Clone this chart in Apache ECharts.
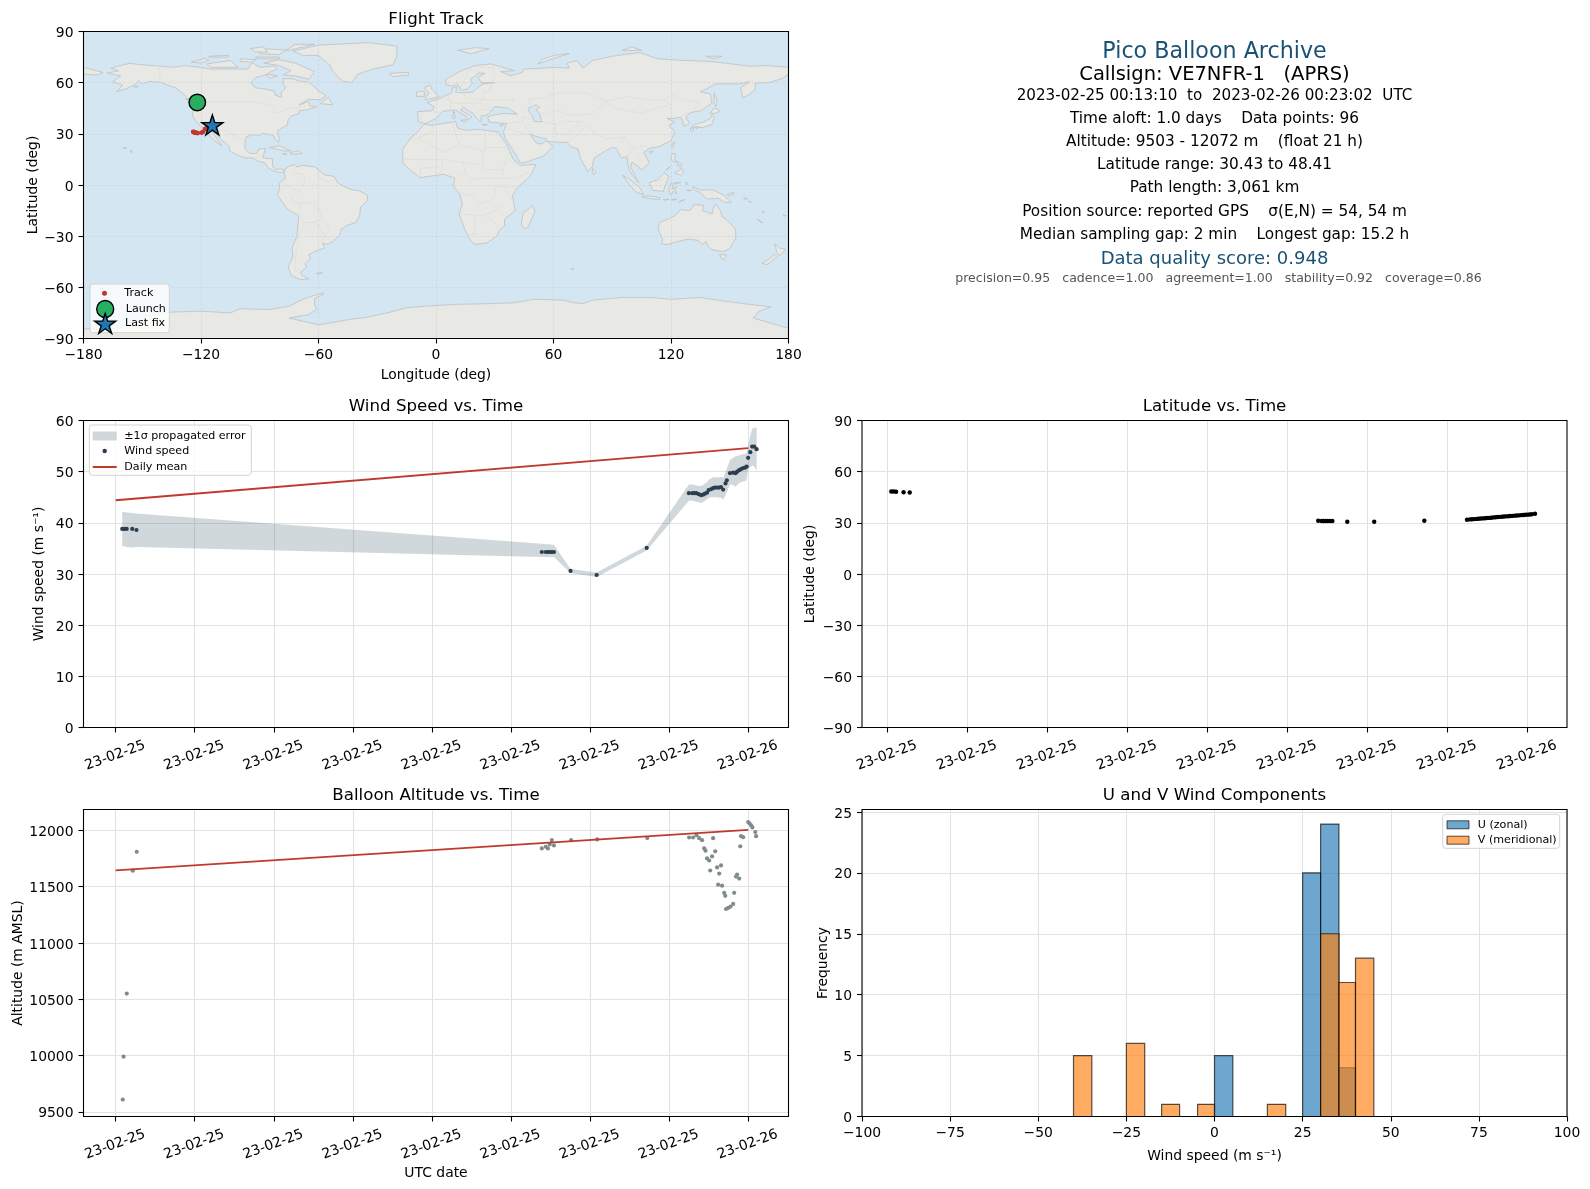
<!DOCTYPE html>
<html><head><meta charset="utf-8">
<script src="https://cdn.jsdelivr.net/npm/echarts@6/dist/echarts.min.js"></script>
<style>html,body{margin:0;padding:0;background:#fff}#c{width:1590px;height:1189px}</style>
</head><body><div id="c"></div>
<script>
// ---------- time axis ----------
const timeTickHours = [0,3,6,9,12,15,18,21,24];
const timeTickLabels = ['23-02-25','23-02-25','23-02-25','23-02-25','23-02-25','23-02-25','23-02-25','23-02-25','23-02-26'];
// ---------- wind ----------
const windHours = [0.25,0.33,0.42,0.63,0.79,16.17,16.32,16.40,16.47,16.55,16.63,17.26,18.25,20.15,21.75,21.88,21.97,22.03,22.12,22.21,22.29,22.36,22.44,22.50,22.60,22.67,22.74,22.82,22.90,22.97,23.05,23.14,23.19,23.31,23.43,23.52,23.58,23.66,23.73,23.81,23.89,23.94,24.00,24.08,24.15,24.23,24.32];
const windSpeed = [38.8,38.8,38.8,38.8,38.6,34.3,34.3,34.3,34.3,34.3,34.3,30.6,29.8,35.1,45.8,45.8,45.8,45.8,45.6,45.4,45.5,45.7,45.9,46.4,46.6,46.8,46.9,46.9,46.9,47.0,46.5,47.7,48.3,49.7,49.8,49.7,50.0,50.3,50.5,50.7,50.8,51.0,52.7,53.8,54.9,54.9,54.4];
const windUpper = [42.1,42.1,42.0,41.9,41.8,35.9,35.8,35.8,35.8,35.7,35.7,31.0,30.3,35.5,47.5,47.5,47.4,47.3,47.2,47.2,47.4,47.7,48.0,48.4,48.7,48.9,48.9,48.9,48.9,49.0,48.8,49.9,50.6,52.3,52.7,53.0,53.0,53.2,53.3,53.4,53.5,53.6,55.0,57.0,58.4,58.6,58.6];
const windLower = [35.4,35.4,35.3,35.2,35.3,33.3,33.3,33.3,33.3,33.3,33.3,30.2,29.4,34.6,44.3,44.3,44.2,44.1,44.0,43.9,44.0,44.3,44.6,44.9,45.0,45.0,45.0,45.0,44.9,44.9,44.5,45.4,46.0,47.5,47.4,47.0,47.4,47.8,48.0,48.1,48.2,48.3,50.5,50.8,51.2,51.0,50.2];
const windMeanHours = [0,24];
const windMean = [44.4,54.6];
// ---------- latitude ----------
const latHours = [0.15,0.24,0.33,0.61,0.84,16.16,16.29,16.36,16.44,16.52,16.60,16.69,17.25,18.26,20.14,21.74,21.85,21.93,22.01,22.09,22.17,22.25,22.33,22.41,22.49,22.57,22.65,22.73,22.81,22.89,22.97,23.05,23.13,23.21,23.29,23.37,23.45,23.53,23.61,23.69,23.77,23.85,23.93,24.01,24.09,24.17,24.29];
const latValues = [48.41,48.4,48.2,47.9,47.8,31.2,31.1,31.1,31.1,31.1,31.1,31.1,30.6,30.6,31.2,31.8,32.0,32.1,32.2,32.3,32.4,32.5,32.6,32.7,32.8,32.9,33.0,33.2,33.3,33.4,33.5,33.6,33.7,33.8,33.9,34.0,34.1,34.2,34.3,34.4,34.5,34.6,34.7,34.8,34.9,35.0,35.3];
// ---------- altitude ----------
const altHours = [0.27,0.30,0.42,0.65,0.80,16.17,16.32,16.40,16.47,16.55,16.63,17.28,18.27,20.17,21.76,21.91,22.04,22.14,22.25,22.33,22.38,22.44,22.52,22.56,22.63,22.67,22.75,22.82,22.86,22.90,22.97,23.01,23.09,23.13,23.16,23.24,23.33,23.43,23.47,23.54,23.58,23.66,23.70,23.73,23.81,24.00,24.05,24.11,24.16,24.27,24.30];
const altValues = [9608,9990,10550,11642,11810,11840,11855,11840,11876,11914,11867,11914,11920,11932,11937,11937,11958,11931,11913,11841,11820,11751,11733,11644,11769,11931,11814,11671,11518,11617,11689,11509,11446,11419,11302,11311,11323,11347,11446,11590,11608,11572,11859,11949,11940,12075,12063,12045,12027,11985,11949];
const altMeanHours = [0,24];
const altMean = [11645,12005];
const altTicks = [9500,10000,10500,11000,11500,12000];
// ---------- histogram ----------
const uBinLo = [0,25,30.1,35.3];
const uBinHi = [5.2,30.1,35.3,40];
const uCounts = [5,20,24,4];
const vBinLo = [-40,-25,-15,-4.8,15,30.1,35.3,40];
const vBinHi = [-34.8,-19.8,-9.9,0,20.2,35.3,40,45.2];
const vCounts = [5,6,1,1,1,15,11,13];
const histCountTicks = [0,5,10,15,20,25];
// ---------- map track ----------
const trackLon = [-122.1,-122.0,-121.9,-121.7,-121.5,-124.0,-123.8,-123.6,-123.4,-123.1,-122.8,-122.3,-121.6,-119.6,-118.9,-118.0,-117.2,-116.0,-114.8];
const trackLat = [48.41,48.3,48.1,47.9,47.8,31.2,31.1,31.0,30.9,30.8,30.7,30.5,30.43,30.7,31.2,32.8,33.2,34.0,35.0];
const launchPoint = [-121.9,48.41];
const lastFixPoint = [-114.2,35.2];
// ---------- land outlines (lon,lat) ----------
const landNorthAmerica = [[-168,65.6],[-164,66.5],[-162,67],[-166,68.3],[-163,69.5],[-156.6,71.3],[-150,70.5],[-141,69.7],[-135,69],[-128,70],[-124,69.5],[-115,68],[-108,68],[-100,68],[-96,68],[-94,71.8],[-90,69],[-85,69.5],[-82,69.7],[-81,68],[-85,66],[-87,64.5],[-92,63],[-94.5,60],[-92.5,57],[-88,56.5],[-82.5,55],[-82,52.5],[-79,51.5],[-79,54.5],[-76.7,57],[-78,59],[-78,62.4],[-73.5,62.3],[-70,61],[-65,60.3],[-62,57.5],[-60,55],[-56,52.5],[-59,50],[-65,50.2],[-70,47],[-65,49],[-64.5,46.5],[-61,46],[-66,44],[-70,43.5],[-70,41.7],[-74,40.5],[-75.5,38],[-76,35],[-78,34],[-81,31.5],[-80,27],[-80.5,25.2],[-82,26.5],[-83,29],[-85,29.7],[-89,30.3],[-90,29],[-94,29.5],[-97,28],[-97.5,24],[-97.5,21],[-95,18.5],[-91.5,18.5],[-90.5,21],[-87,21.5],[-88,18],[-88.5,16],[-83.5,15.3],[-83.5,11],[-82,9],[-79.5,9.5],[-77.5,8.7],[-78,7.5],[-80,7.3],[-83,8.2],[-85.7,10],[-87.5,13],[-91,14],[-94,16],[-97,15.8],[-101,17.3],[-105.5,20],[-105.5,22.5],[-109,26],[-112.7,30.5],[-114.7,31.7],[-112,27.5],[-109.5,23],[-112,25],[-115,28],[-117,32.5],[-120.5,34.5],[-122.5,37.5],[-124.3,40.3],[-124,46],[-123,49],[-127,51],[-130,54.5],[-133,57],[-137,58.5],[-140,60],[-146,60.7],[-150,59.5],[-152,61],[-154,58.8],[-158,56.5],[-163,54.8],[-160,58.5],[-165,60.5],[-161,64],[-168,65.6]];
const landSouthAmerica = [[-77.5,8.7],[-75,11],[-72,12],[-71,10.5],[-68,11.5],[-62,10.7],[-57,6],[-52,5],[-50,1],[-44,-2.5],[-39,-3.5],[-35,-6],[-35,-9],[-38.5,-13],[-39,-18],[-41,-22],[-45,-23.5],[-48.5,-26],[-49,-29],[-53,-33.5],[-56,-34.8],[-58,-34],[-57,-37],[-62,-39],[-65,-41],[-64,-43],[-67,-46],[-66,-48],[-69,-51],[-68.5,-53],[-65,-55],[-69,-55.5],[-74,-53],[-75.5,-48],[-73,-42],[-73.5,-37],[-71,-30],[-70,-18],[-76,-14],[-81,-6],[-80,-2.5],[-80,1],[-77,4],[-77.5,8.7]];
const landAfrica = [[-6,35.7],[-2,35],[10,37.2],[11,33.5],[15,32],[20,32.5],[23,32.5],[32,31],[32.5,29.5],[36,24],[37.5,20],[39.5,15],[43,11.5],[51,12],[48,5],[42,-1],[39,-6],[40.5,-15],[35,-20],[35,-24],[32.7,-26],[31,-30],[26,-34],[20,-34.8],[18,-33],[15,-27],[11.8,-17],[13.5,-11],[12,-5],[9,-1],[9.5,4],[4,6.3],[-4,5],[-8,4.3],[-13,8.5],[-17,13],[-17,21],[-13,27.5],[-9.5,31],[-6,35.7]];
const landEurasia = [[-5.5,36],[-9,37],[-9.5,43],[-2,43.5],[-1,46],[-4.5,48.4],[1.5,50.5],[4,52],[8,54],[8.5,57],[10.5,57.5],[10,54.5],[14,54],[19,54.5],[21,57],[24,59.3],[30,60],[23,60],[21.5,63],[25,65.5],[22,65.7],[17.5,62],[18.5,59.5],[16,56.2],[13,55.5],[11,59],[8,58],[5,59],[5,62],[13,67],[20,70],[28,71],[40,67],[33,66.5],[38,64],[44,66],[45,68],[54,68.5],[60,69],[68,68.5],[67,71.5],[72,73],[75,68.5],[80,73],[90,75.5],[104,77.7],[113,74],[127,73],[140,72.5],[160,69.7],[170,70],[180,69],[180,65],[177,62.5],[170,60],[163,59.8],[163,56],[160,53],[156.7,51],[155.5,57],[160,60.5],[155,59.3],[143,59.3],[135,54.5],[140,53.5],[141,48],[135,43.5],[130,42.5],[127.5,39.8],[129.5,36],[126.5,34.5],[126,37.5],[125,39.7],[121.5,39],[118,39],[122,37],[119,35],[122,31],[120,26],[114,22.5],[109,21.5],[106,19],[109,13],[105,9],[103,11],[100,13.5],[99.5,10],[103.5,1.5],[100.5,5.5],[98.5,9],[97.5,16.5],[94.5,16],[92,21.5],[90,22],[86.5,20],[80.5,15.5],[80,11],[77.5,8],[73.5,16],[72.7,21],[69,22.3],[67,25],[61.5,25.2],[57,25.5],[56.3,27],[51,28.5],[48,30],[50,26.5],[51.5,24.5],[54,24],[56.3,26],[59.7,22.5],[55,17],[45,13],[43,13],[39,21],[35,28],[34.5,31.5],[36,36],[31,36.5],[27,37],[26.5,40],[29,41],[35,42],[41.5,41.5],[37,45],[33.5,45.5],[30,46],[28,43],[26,41],[23,40.5],[23,37],[20,40],[19,42],[14,45.5],[12.5,44],[18.3,40],[16,38],[15.7,40],[10,44],[3.5,43.3],[0,39],[-5.5,36]];
const landChukotkaWest = [[-180,65],[-180,69],[-175,67.5],[-170,66],[-173,64.5],[-180,65]];
const landAustralia = [[114,-22],[113.5,-26],[115.7,-32],[115,-34.3],[118,-35],[124,-33],[129,-31.7],[134,-32.5],[136,-35],[138,-33],[138.5,-35.5],[141,-38],[146.5,-39],[150,-37.5],[153,-31],[153,-26],[149,-21],[146,-18.5],[145.3,-15],[142.7,-11],[141.5,-14],[141,-17],[136,-15],[136.8,-12],[132,-11.3],[129.5,-15],[125,-14.5],[122,-18],[117,-20.7],[114,-22]];
const landAntarctica = [[-180,-90],[-180,-84.3],[-165,-84.5],[-155,-82],[-150,-77],[-135,-74.5],[-120,-74],[-105,-75],[-100,-72.5],[-85,-73],[-75,-71],[-68,-67],[-63,-65],[-57.5,-63.3],[-58,-64.5],[-62,-66.5],[-62,-70],[-61,-73],[-65,-76],[-75,-78],[-60,-82],[-45,-79],[-35,-77.5],[-25,-75],[-15,-72],[-5,-71],[10,-70],[30,-69.5],[40,-69],[50,-67],[65,-67.5],[70,-69],[75,-69.5],[80,-67.5],[95,-66],[110,-66],[120,-67],[135,-66],[150,-68.5],[160,-70],[171,-71.5],[165,-74],[162,-78],[180,-84],[180,-90],[-180,-90]];
const landIslands = [
 [[-73,78.5],[-60,82],[-35,83.5],[-20,81.5],[-20,75],[-22,70.5],[-32,68],[-40,65],[-43,60],[-48,61],[-53,67],[-54,70],[-60,76],[-68,76],[-73,78.5]],
 [[-80,73.5],[-72,71.5],[-62,66.5],[-65,62],[-72,64],[-78,64.5],[-74,67],[-80,70],[-88,71.5]],
 [[-117,71],[-105,73],[-101,69],[-115,69]],[[-125,72],[-118,74.3],[-116,73],[-120,71.5]],
 [[-90,77],[-80,76.5],[-72,82.5],[-62,82.5],[-75,79],[-90,80]],[[-92,75],[-80,75],[-80,74],[-92,74]],
 [[-95,80],[-88,81],[-86,78],[-92,78]],[[-116,75.5],[-106,76],[-106,75],[-116,75]],[[-100,74],[-92,73.5],[-94,72],[-100,72.5]],
 [[-87,65],[-81,64],[-85,62.5]],[[-59,47.7],[-55,51.5],[-52.8,47]],
 [[-85,22],[-80,23],[-74,20],[-77.5,20]],[[-74.5,19],[-70,20],[-68.5,18.5],[-74,18]],[[-78.3,18.4],[-76.3,18.2],[-77,17.7]],
 [[-128,50.5],[-125,50],[-123.5,48.5]],[[-156,20.5],[-155,19.5],[-156,19]],[[-160,22.2],[-158,21.5],[-159.5,21.8]],[[-154.5,58],[-152,58],[-153,57]],
 [[-61,-51.7],[-58,-51.5],[-60,-52.4]],[[-24,65.5],[-14,66],[-14,64.5],[-22,63.5]],
 [[-5.5,50],[1.5,51.5],[0,53.5],[-2,56],[-3,58.5],[-6,57],[-3.5,54],[-5,52]],[[-10,52],[-6,52],[-6,55],[-10,54.5]],
 [[11,79],[20,80.5],[27,80],[18,77]],[[52,71],[57,73],[68,77],[60,76],[54,73.5]],[[95,79],[105,79],[100,81]],[[138,75.5],[146,75.5],[142,74]],
 [[142,54],[143.5,50],[143,46],[142,48]],[[130.5,34],[136,33.7],[141,35.5],[142,39.5],[141,41.2],[140,39],[136.5,36.9],[132,35.4]],
 [[140,42],[142,45.3],[145,43.5],[143,42]],[[130,33.5],[131.7,33],[131,31],[130,32]],[[132.5,34],[134.5,34],[133,33]],
 [[120.2,23],[121.5,25.2],[122,25],[120.8,22]],[[109,19.5],[110.5,20],[110,18.3]],
 [[120,16],[120.7,18.5],[122.2,18.3],[122,14.5],[124,13],[120.7,13.9]],[[122,7],[125.5,9.7],[126.5,7.5],[125,5.8]],[[123,11.5],[125.5,12.5],[125,10.5]],[[117.2,8.5],[119.5,11],[119,10]],
 [[109,1.5],[113,3],[116.5,7],[119,5],[117.5,1],[116,-3.8],[110.5,-3]],[[95.3,5.6],[98,4],[104,-1.5],[106,-5.8],[102,-4],[99,0]],
 [[105.2,-6.7],[110,-6.5],[114.5,-7.7],[114,-8.7],[106.5,-7.5]],[[119.5,-5.5],[119,-2.5],[120,1],[125,1.5],[121,0.3],[120.5,-2.5],[123,-1],[121.8,-2],[123,-5],[121,-3.5],[120.5,-5.5]],
 [[124,-10],[127,-8.5],[125,-9.5]],[[116,-8.5],[119,-8.3],[117,-9]],[[120,-8.5],[123,-8.3],[121,-8.9]],[[127.5,1.8],[128.5,1],[128,0]],[[128,-3],[130.5,-3],[129,-3.5]],
 [[131,-1],[135,-3],[141,-2.7],[147,-6],[150.8,-10.5],[147,-10],[144,-7.7],[140,-8.2],[138,-8],[135,-4.5],[132,-3]],[[148.5,-5.5],[152,-4.2],[152,-5.5],[149,-6.2]],
 [[157,-7.5],[159,-8.3],[157.5,-8.2]],[[159.5,-9.3],[161,-10],[160,-9.8]],[[167,-15],[167.5,-16.5],[166.8,-15.8]],[[164,-20],[167,-22.3],[166,-22]],[[177.3,-17.5],[178.7,-18],[177.5,-18.3]],
 [[144.8,-40.8],[148.3,-41],[147.5,-43.3],[146,-43.5]],[[173,-34.5],[175.5,-37],[178.5,-37.7],[175.5,-41.5],[174,-39.3]],[[172.7,-40.5],[174,-41.8],[171,-45],[169,-46.7],[166.5,-46],[170.5,-43]],
 [[49.3,-12],[50.5,-15.5],[47,-25],[45,-25.5],[43.5,-23],[44.5,-16.5]],[[80,9.7],[81.7,7.5],[80.5,6],[79.8,8]],[[69,-49],[70.5,-49.3],[69.5,-49.8]],
 [[8.2,41],[9.7,41],[9.5,39],[8.5,39]],[[8.7,43],[9.5,43],[9.3,41.5]],[[12.5,38],[15.5,38.2],[15,36.7]],[[23.5,35.5],[26.3,35.3],[24,35]],[[32.5,35],[34.5,35.6],[33.5,34.6]]
];
const waterBodies = [[[47,45],[51,47],[53,45.5],[51,44],[53,41.5],[54,37],[50,37.3],[49,41],[47.5,43]]];
const countryBorders = [
 [[-123,49],[-95,49],[-89,48],[-83,46],[-82.5,42],[-79,43],[-75,45],[-71,45],[-67.5,47],[-67,45]],[[-141,60],[-141,69.7]],[[-117,32.5],[-106.5,31.8],[-103,29],[-97.5,26]],[[-92,14.5],[-91,17.5],[-89,18]],
 [[-72,12],[-72.5,7],[-67.5,6],[-67,1.5],[-70,-4],[-74,-7],[-73,-10],[-69,-11],[-65,-10],[-60,-14],[-58,-20],[-54.5,-25.5],[-57,-30],[-53.5,-33.5]],[[-60,8],[-60,5],[-57,2],[-52,2.5]],[[-70,-4],[-75,-0.5],[-78,1]],[[-80.5,-3.5],[-75,-0.5]],[[-70,-18],[-69,-11]],[[-69,-18],[-67,-23],[-70,-30],[-71.5,-40],[-72,-50],[-69,-52]],[[-67,-22],[-62,-22],[-58,-20]],[[-62,-22],[-58,-27],[-58,-34]],
 [[-9,27.5],[-1,32],[-2,35]],[[-13,27.5],[-8,27],[4,19],[12,23.5],[10,30],[8,37]],[[12,23.5],[25,20],[25,32]],[[25,22],[36,22]],[[24,20],[24,9],[34,9],[36,15],[43,12]],[[34,9],[34,4],[41,4],[48,8]],[[-17,15],[-5,15],[3,15],[14,13],[24,12]],[[14,13],[15,7],[9,4.5]],[[3,15],[3,6.5]],[[-8,4.5],[-8,10],[-5,10],[2,11]],[[15,7],[18,3.5],[30,4],[34,4]],[[12,-5],[18,-6],[22,-11],[30,-8],[30,-1],[34,-1],[41,-2]],[[34,-1],[40,-10.5]],[[12,-17],[24,-18],[30,-15],[35,-11]],[[20,-18],[20,-29],[17,-29]],[[25,-18],[30,-22],[32,-26]],
 [[-9,42],[-7,37]],[[-2,43.5],[3,42.5]],[[3,51],[8,49],[7,44]],[[7,54],[6,51],[8,48],[13,48],[17,48],[22,48],[29,45]],[[14,54],[15,51],[24,50],[24,54],[28,56],[28,60]],[[24,50],[40,50],[38,47]],[[13,47],[14,45.5]],[[20,42],[23,44],[29,44]],[[26,41],[26,38]],[[12,56],[17,68],[24,66]],[[20,69],[29,69],[30,62],[28,60]],
 [[36,36],[44,37],[44.5,40]],[[36,33],[39,32],[47,29.5]],[[44,37],[46,34],[48,30]],[[44.5,40],[48,39],[48,38.5]],[[54,37],[61,36],[61,31],[61.5,25.2]],[[61,36],[66,37.5],[71,37],[75,37]],[[61,30],[66,29.5],[70,33],[74,37]],[[67,25],[71,28],[74,32],[78,35]],[[78,35],[81,30],[88,27],[97,28],[92,22]],[[49,46],[55,41],[61,44],[68,41],[75,41],[80,42],[87,49]],[[49,46],[47,50],[55,51],[62,54],[77,54],[87,49]],[[87,49],[98,52],[107,50],[117,50],[120,53],[127,50],[135,48],[131,43]],[[87,49],[92,45],[105,42],[112,45],[120,47],[117,50]],[[97,28],[98,24],[102,21.5],[106,23],[108,21.5]],[[102,21.5],[100,20],[98,17],[99,10]],[[102,18],[105,14],[103,11]],[[124.5,40],[128,42],[130,42.5]],[[126,38],[128.5,38.5]],[[141,-2.7],[141,-9]],[[110,1.5],[115,3],[117.5,4.5]]
];
// ---------- text panel ----------
const panelLines = [
 ['Pico Balloon Archive',52.3,22.2,'#1a5276',0],
 ['Callsign: VE7NFR-1   (APRS)',75.2,19.5,'#000',0],
 ['2023-02-25 00:13:10  to  2023-02-26 00:23:02  UTC',96.2,15.15,'#000',0],
 ['Time aloft: 1.0 days    Data points: 96',119.4,15.3,'#000',0],
 ['Altitude: 9503 - 12072 m    (float 21 h)',142.4,15.3,'#000',0],
 ['Latitude range: 30.43 to 48.41',165.4,15.3,'#000',0],
 ['Path length: 3,061 km',188.5,15.3,'#000',0],
 ['Position source: reported GPS    σ(E,N) = 54, 54 m',211.8,15.3,'#000',0],
 ['Median sampling gap: 2 min    Longest gap: 15.2 h',235,15.3,'#000',0],
 ['Data quality score: 0.948',259.2,18,'#1a5276',0],
 ['precision=0.95   cadence=1.00   agreement=1.00   stability=0.92   coverage=0.86',279,12.55,'#555',4]
];
// ---------- layout ----------
const FONT = 'DejaVu Sans';
const COL = [83.5,862], ROW = [31.5,420.5,809.5], W = 705, H = 307;
const TICK_FS = 13.9, LABEL_FS = 13.9, TITLE_FS = 16.67, LEGEND_FS = 11.1;
const GRID_C = '#e2e2e2';
const TRED = '#c0392b';
const pairs = (a,b)=>a.map((v,i)=>[v,b[i]]);
const minus = v=>String(v).replace('-','\u2212');
const starPath = 'path://M50 0 L61.8 36.3 L100 36.3 L69.1 58.8 L80.9 95.1 L50 72.6 L19.1 95.1 L30.9 58.8 L0 36.3 L38.2 36.3 Z';

function grid(c,r){return {left:COL[c],top:ROW[r],width:W,height:H,containLabel:false,outerBoundsMode:'none',show:false};}
const tick = {show:true,length:5,lineStyle:{color:'#000',width:1.1}};
const noLine = {show:false,onZero:false};
const label = {color:'#000',fontSize:TICK_FS,fontFamily:FONT,margin:10,formatter:minus,hideOverlap:false,showMinLabel:true,showMaxLabel:true};
const yLabel = {...label,margin:10,verticalAlign:'top',lineHeight:4};
const nameSt = {color:'#000',fontSize:LABEL_FS,fontFamily:FONT};
const split = {show:true,lineStyle:{color:GRID_C,width:1.1}};
const mapSplit = {show:true,lineStyle:{color:'#c3ced4',width:0.6,type:[2,2]}};
function timeAxis(i,lo,hi,name){return {gridIndex:i,type:'value',min:lo,max:hi,name:name||'',nameLocation:'middle',nameGap:50,nameTextStyle:nameSt,
  axisLine:noLine,axisTick:{...tick,customValues:timeTickHours},splitLine:split,
  axisLabel:{...label,customValues:timeTickHours,rotate:20,align:'center',verticalAlign:'middle',margin:28,padding:[0,1,0,0],formatter:v=>timeTickLabels[timeTickHours.indexOf(v)]}};}
function yAxis(i,o){return Object.assign({gridIndex:i,type:'value',nameLocation:'middle',nameRotate:90,nameTextStyle:nameSt,axisLine:noLine,axisTick:tick,splitLine:split,axisLabel:yLabel},o);}

const renderPoly = (polys,style)=>(params,api)=>{
  const pts = polys[params.dataIndex].map(p=>api.coord(p));
  return {type:'polygon',shape:{points:pts},style};
};
const landAll = [landNorthAmerica,landSouthAmerica,landAfrica,landEurasia,landChukotkaWest,landAustralia,landAntarctica,...landIslands];
function histSeries(name,lo,hi,counts,fill,gi,z){
  return {name,type:'custom',xAxisIndex:gi,yAxisIndex:gi,z,itemStyle:{color:fill},data:counts.map((c,i)=>[lo[i],hi[i],c]),
    renderItem:(p,api)=>{const a=api.coord([api.value(0),0]),b=api.coord([api.value(1),api.value(2)]);
      return {type:'rect',shape:{x:a[0],y:b[1],width:b[0]-a[0],height:a[1]-b[1]},style:{fill,stroke:'rgba(0,0,0,0.65)',lineWidth:1.2}};}};
}
function legendItem(name,cx,cy,w,h,textX,extra,dy){
  return {show:true,selectedMode:false,orient:'horizontal',left:cx-w/2,top:cy-Math.max(h,13)/2+(dy||0),padding:0,itemWidth:w,itemHeight:h,z:20,
    data:[Object.assign({name},extra||{})],
    textStyle:{color:'#000',fontSize:LEGEND_FS,fontFamily:FONT,padding:[0,0,0,textX-(cx+w/2)-5]}};
}
const legendBoxes=[[90,284,79.3,48.7],[89.3,425,162,50.3],[1442.7,814.3,117,34]];
const graphics = [];
panelLines.forEach(l=>graphics.push({type:'text',x:COL[1]+W/2+l[4],y:l[1],silent:true,style:{text:l[0],x:0,y:0,align:'center',verticalAlign:'middle',font:l[2]+'px "'+FONT+'"',fill:l[3]}}));
legendBoxes.forEach(b=>graphics.push({type:'rect',silent:true,z:15,shape:{x:b[0],y:b[1],width:b[2],height:b[3],r:3},style:{fill:'rgba(255,255,255,0.8)',stroke:'#d4d4d4',lineWidth:1}}));
[[0,0],[0,1],[1,1],[0,2],[1,2]].forEach(([c,r])=>graphics.push({type:'rect',silent:true,z:30,shape:{x:COL[c],y:ROW[r],width:W,height:H},style:{fill:'none',stroke:'#000',lineWidth:1.1}}));

const titles = [['Flight Track',0,20.4],['Wind Speed vs. Time',0,408],['Latitude vs. Time',1,408],['Balloon Altitude vs. Time',0,797],['U and V Wind Components',1,797]]
  .map(t=>({text:t[0],left:COL[t[1]]+W/2,top:t[2]-9.5,padding:0,textAlign:'center',textStyle:{color:'#000',fontSize:TITLE_FS,fontWeight:'normal',fontFamily:FONT}}));

const option = {
  animation:false,backgroundColor:'#fff',textStyle:{fontFamily:FONT},
  title:titles,
  grid:[Object.assign(grid(0,0),{show:true,backgroundColor:'#d4e6f1',borderWidth:0}),grid(0,1),grid(1,1),grid(0,2),grid(1,2)],
  xAxis:[
    {gridIndex:0,type:'value',min:-180,max:180,interval:60,name:'Longitude (deg)',nameLocation:'middle',nameGap:30,nameTextStyle:nameSt,axisLine:noLine,axisTick:tick,axisLabel:label,z:2,splitLine:mapSplit},
    timeAxis(1,-1.22,25.53),timeAxis(2,-0.949,25.49),timeAxis(3,-1.22,25.53,'UTC date'),
    {gridIndex:4,type:'value',min:-100,max:100,interval:25,name:'Wind speed (m s\u207B\u00B9)',nameLocation:'middle',nameGap:33,nameTextStyle:nameSt,axisLine:noLine,axisTick:tick,axisLabel:label,splitLine:split}
  ],
  yAxis:[
    yAxis(0,{min:-90,max:90,interval:30,name:'Latitude (deg)',nameGap:43,z:2,splitLine:mapSplit}),
    yAxis(1,{min:0,max:60,interval:10,name:'Wind speed (m s\u207B\u00B9)',nameGap:37}),
    yAxis(2,{min:-90,max:90,interval:30,name:'Latitude (deg)',nameGap:45}),
    yAxis(3,{min:9458,max:12186,axisTick:{...tick,customValues:altTicks},axisLabel:{...yLabel,customValues:altTicks},name:'Altitude (m AMSL)',nameGap:58}),
    yAxis(4,{min:0,max:25.2,axisTick:{...tick,customValues:histCountTicks},axisLabel:{...yLabel,customValues:histCountTicks},name:'Frequency',nameGap:32})
  ],
  legend:[
    legendItem('Track',104.5,292.3,5,5,124.3,{icon:'circle'},2),
    legendItem('Launch',104.5,308.3,17,17,125,{icon:'circle',itemStyle:{color:'#27ae60',borderColor:'#000',borderWidth:1.4}},0),
    legendItem('Last fix',104.5,323.3,21,21,124.3,{icon:starPath,itemStyle:{color:'#1f77b4',borderColor:'#000',borderWidth:1.4}},0),
    legendItem('\u00B11\u03C3 propagated error',104.7,435,24,9,124.3,{icon:'rect'},2),
    legendItem('Wind speed',104.7,450,4.5,4.5,124.3,{icon:'circle'},2),
    legendItem('Daily mean',104.7,466,24,2,124.3,{icon:'rect',itemStyle:{color:TRED}},2),
    legendItem('U (zonal)',1457.5,823.3,22,8,1477.3,{icon:'rect',itemStyle:{color:'rgba(31,119,180,0.65)',borderColor:'rgba(0,0,0,0.65)',borderWidth:1}},2.5),
    legendItem('V (meridional)',1457.5,838.7,22,8,1477.3,{icon:'rect',itemStyle:{color:'rgba(255,127,14,0.65)',borderColor:'rgba(0,0,0,0.65)',borderWidth:1}},2.5)
  ],
  graphic:{elements:graphics},
  series:[
    {name:'land',type:'custom',xAxisIndex:0,yAxisIndex:0,z:1,silent:true,data:landAll.map((_,i)=>i),renderItem:renderPoly(landAll,{fill:'#e8e8e4',stroke:'#b9bcbd',lineWidth:0.7})},
    {name:'water',type:'custom',xAxisIndex:0,yAxisIndex:0,z:1,silent:true,data:waterBodies.map((_,i)=>i),renderItem:renderPoly(waterBodies,{fill:'#d4e6f1',stroke:'#b9bcbd',lineWidth:0.7})},
    {name:'borders',type:'custom',xAxisIndex:0,yAxisIndex:0,z:1,silent:true,data:countryBorders.map((_,i)=>i),renderItem:(p,api)=>({type:'polyline',shape:{points:countryBorders[p.dataIndex].map(q=>api.coord(q))},style:{fill:'none',stroke:'#dadad6',lineWidth:0.6}})},
    {name:'Track',type:'scatter',xAxisIndex:0,yAxisIndex:0,z:5,symbolSize:4.6,itemStyle:{color:TRED,opacity:1},data:pairs(trackLon,trackLat)},
    {name:'Launch',type:'scatter',xAxisIndex:0,yAxisIndex:0,z:6,symbolSize:16.5,itemStyle:{color:'#27ae60',borderColor:'#000',borderWidth:1.4,opacity:1},data:[launchPoint]},
    {name:'Last fix',type:'scatter',xAxisIndex:0,yAxisIndex:0,z:7,symbol:starPath,symbolKeepAspect:true,symbolSize:21,itemStyle:{color:'#1f77b4',borderColor:'#000',borderWidth:1.4,opacity:1},data:[lastFixPoint]},

    {name:'\u00B11\u03C3 propagated error',type:'custom',xAxisIndex:1,yAxisIndex:1,z:3,itemStyle:{color:'rgba(90,115,125,0.28)'},data:[[windHours[0],windSpeed[0]]],
      renderItem:(p,api)=>{const up=windHours.map((h,i)=>api.coord([h,windUpper[i]]));const lo=windHours.map((h,i)=>api.coord([h,windLower[i]])).reverse();
        return {type:'polygon',shape:{points:up.concat(lo)},style:{fill:'rgba(90,115,125,0.28)'}};}},
    {name:'Wind speed',type:'scatter',xAxisIndex:1,yAxisIndex:1,z:5,symbolSize:4.2,itemStyle:{color:'#2c3e50',opacity:1},data:pairs(windHours,windSpeed)},
    {name:'Daily mean',type:'line',xAxisIndex:1,yAxisIndex:1,z:6,showSymbol:false,symbol:'none',lineStyle:{color:TRED,width:1.9},itemStyle:{color:TRED},data:pairs(windMeanHours,windMean)},

    {name:'Latitude',type:'scatter',xAxisIndex:2,yAxisIndex:2,z:5,symbolSize:4.4,itemStyle:{color:'#000',opacity:1},data:pairs(latHours,latValues)},

    {name:'Altitude',type:'scatter',xAxisIndex:3,yAxisIndex:3,z:5,symbolSize:4.2,itemStyle:{color:'#7f8c8d',opacity:1},data:pairs(altHours,altValues)},
    {name:'Altitude mean',type:'line',xAxisIndex:3,yAxisIndex:3,z:6,showSymbol:false,symbol:'none',lineStyle:{color:TRED,width:1.9},data:pairs(altMeanHours,altMean)},

    histSeries('U (zonal)',uBinLo,uBinHi,uCounts,'rgba(31,119,180,0.65)',4,5),
    histSeries('V (meridional)',vBinLo,vBinHi,vCounts,'rgba(255,127,14,0.65)',4,6)
  ]
};
echarts.init(document.getElementById('c'),null,{renderer:'canvas'}).setOption(option);
</script></body></html>
